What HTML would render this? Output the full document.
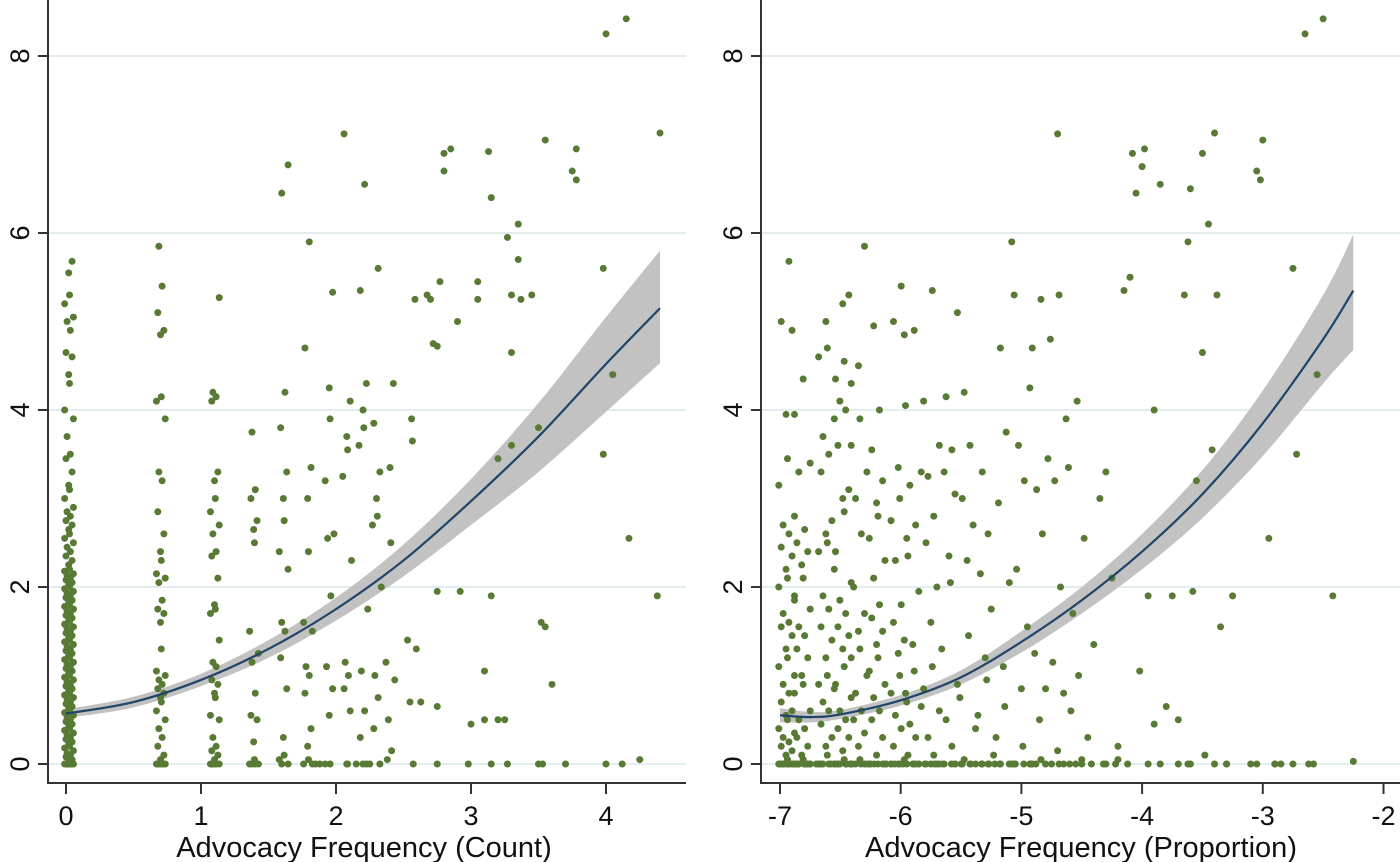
<!DOCTYPE html>
<html><head><meta charset="utf-8"><style>
html,body{margin:0;padding:0;background:#fff;}
svg{display:block;font-family:"Liberation Sans",Arial,sans-serif;}
</style></head><body>
<svg id="chart" width="1400" height="862" viewBox="0 0 1400 862"></svg>
<script>
// ---------- DATA ----------
const yTicks = [0,2,4,6,8];
const leftXTicks = [0,1,2,3,4];
const rightXTicks = [-7,-6,-5,-4,-3,-2];
const leftTitle = "Advocacy Frequency (Count)";
const rightTitle = "Advocacy Frequency (Proportion)";

const leftFitX = [0,0.5,1,1.5,2,2.5,3,3.5,4,4.4];
const leftFitY = [0.57,0.70,0.95,1.30,1.75,2.30,2.97,3.70,4.52,5.15];
const leftFitLo = [0.52,0.64,0.88,1.20,1.62,2.12,2.70,3.30,3.98,4.53];
const leftFitHi = [0.62,0.76,1.02,1.40,1.88,2.48,3.22,4.08,5.05,5.80];
const rightFitX = [-7,-6.75,-6.5,-6,-5.5,-5,-4.5,-4,-3.5,-3,-2.5,-2.25];
const rightFitY = [0.55,0.53,0.56,0.72,0.98,1.38,1.85,2.40,3.05,3.85,4.80,5.35];
const rightFitLo = [0.47,0.47,0.51,0.66,0.90,1.26,1.70,2.20,2.78,3.48,4.30,4.68];
const rightFitHi = [0.63,0.59,0.61,0.78,1.06,1.50,2.00,2.60,3.32,4.22,5.30,5.98];

const leftColX = [0.02,0.70,1.10,1.39,1.61,1.79,1.95,2.08,2.20,2.30,2.40,2.56,2.64];
const leftColY = [
 [0,0,0,0,0,0,0,0,0.02,0.05,0.08,0.1,0.12,0.15,0.18,0.2,0.22,0.25,0.28,0.3,0.33,0.35,0.38,0.4,0.43,0.45,0.48,0.5,0.53,0.55,0.58,0.6,0.63,0.65,0.68,0.7,0.73,0.75,0.78,0.8,0.83,0.85,0.88,0.9,0.93,0.95,0.98,1.0,1.03,1.05,1.08,1.1,1.13,1.15,1.18,1.2,1.23,1.25,1.28,1.3,1.33,1.35,1.38,1.4,1.43,1.45,1.48,1.5,1.53,1.55,1.58,1.6,1.63,1.65,1.68,1.7,1.73,1.75,1.78,1.8,1.83,1.85,1.88,1.9,1.93,1.95,1.98,2.0,2.03,2.05,2.08,2.1,2.13,2.15,2.18,2.2,2.25,2.3,2.35,2.4,2.45,2.5,2.55,2.6,2.65,2.7,2.75,2.8,2.85,2.9,3.0,3.1,3.15,3.3,3.45,3.5,3.7,3.9,4.0,4.3,4.4,4.6,4.65,4.9,5.0,5.05,5.2,5.3,5.55,5.68],
 [0,0,0,0,0,0,0,0.05,0.1,0.2,0.3,0.4,0.5,0.6,0.7,0.75,0.8,0.85,0.9,0.95,1.0,1.05,1.3,1.6,1.7,1.75,1.85,2.05,2.1,2.15,2.3,2.4,2.6,2.85,3.2,3.3,3.9,4.1,4.15,4.85,4.9,5.1,5.4,5.85],
 [0,0,0,0,0,0,0.05,0.1,0.15,0.2,0.3,0.5,0.55,0.75,0.8,0.9,0.95,1.1,1.15,1.4,1.7,1.75,1.8,2.1,2.35,2.4,2.6,2.7,2.85,3.0,3.2,3.3,4.1,4.15,4.2,5.27],
 [0,0,0,0,0.05,0.25,0.5,0.55,0.8,1.15,1.25,1.5,2.5,2.65,2.75,3.0,3.1,3.75],
 [0,0,0.05,0.1,0.3,0.85,1.2,1.5,1.6,2.2,2.4,2.75,3.0,3.3,3.8,4.2,6.45,6.77],
 [0,0,0.05,0.2,0.4,0.8,1.0,1.1,1.5,1.6,2.4,3.0,3.35,4.7,5.9],
 [0,0,0.55,0.85,1.1,1.9,2.55,2.6,3.2,3.9,4.25,5.33],
 [0,0,0.6,0.85,1.0,1.15,2.3,3.25,3.55,3.7,4.1,7.12],
 [0,0,0.3,0.6,1.05,1.75,3.6,3.8,4.0,4.3,5.35,6.55],
 [0,0.4,0.75,1.0,2.0,2.7,2.8,3.0,3.3,3.85,5.6],
 [0.05,0.15,0.5,0.95,1.15,2.5,3.35,4.3],
 [0,0.7,1.3,1.4,3.65,3.9,5.25],
 [0.7,5.3]
];
const leftLooseX = [2.7,2.72,2.75,2.77,2.8,2.85,2.8,2.9,2.92,2.75,2.75,2.98,3.0,3.05,3.05,3.1,3.15,3.1,3.2,3.13,3.15,3.2,3.25,3.27,3.3,3.3,3.3,3.35,3.35,3.37,3.45,3.5,3.52,3.55,3.55,3.6,3.53,3.7,3.75,3.78,3.78,3.98,3.98,4.0,4.05,4.0,4.12,4.15,4.17,4.4,4.38,4.25,2.75,3.15,3.5,1.88,1.85,2.15,2.25,3.27];
const leftLooseY = [5.25,4.75,4.72,5.45,6.9,6.95,6.7,5.0,1.95,1.95,0.65,0,0.45,5.25,5.45,1.05,1.9,0.5,0.5,6.92,6.4,3.45,0.5,5.95,4.65,3.6,5.3,5.7,6.1,5.25,5.3,3.8,1.6,1.55,7.05,0.9,0,0,6.7,6.6,6.95,5.6,3.5,8.25,4.4,0,0,8.42,2.55,7.13,1.9,0.05,0,0,0,0,0,0,0,0];

const rightColX = [-6.95,-6.82,-6.62,-6.48,-6.35,-6.2,-6.02,-5.9,-5.75,-5.6,-5.45,-5.3,-5.15,-5.0,-4.85,-4.7,-4.55];
const rightColY = [
 [0,0,0,0,0,0,0,0.05,0.1,0.15,0.2,0.25,0.3,0.35,0.4,0.5,0.55,0.6,0.7,0.8,0.9,1.0,1.1,1.2,1.3,1.45,1.55,1.6,1.7,1.85,2.0,2.1,2.2,2.35,2.45,2.6,2.7,2.8,3.15,3.45,3.95,4.9,5.0,5.68],
 [0,0,0,0,0,0,0.05,0.1,0.2,0.3,0.4,0.5,0.6,0.8,0.9,1.0,1.2,1.3,1.45,1.55,1.75,1.9,2.1,2.25,2.4,2.5,2.65,3.3,3.4,3.95,4.35],
 [0,0,0,0,0,0.1,0.2,0.3,0.45,0.6,0.7,0.85,0.9,1.0,1.2,1.4,1.55,1.75,1.9,2.2,2.4,2.5,2.6,2.75,3.3,3.5,3.7,3.9,4.6,4.7,5.0],
 [0,0,0,0,0.05,0.15,0.3,0.4,0.5,0.6,0.75,0.9,1.1,1.3,1.45,1.55,1.7,1.85,2.05,2.4,2.85,3.0,3.1,3.6,4.0,4.1,4.3,4.35,4.55,5.2,5.3],
 [0,0,0,0.05,0.2,0.35,0.5,0.6,0.8,1.0,1.2,1.3,1.5,1.7,2.0,2.6,3.0,3.3,3.6,3.9,4.5,5.85],
 [0,0,0,0.1,0.3,0.5,0.6,0.75,0.9,1.05,1.2,1.35,1.5,1.65,1.8,2.1,2.3,2.55,2.8,2.95,3.2,3.55,4.0,4.95],
 [0,0,0,0.05,0.2,0.4,0.55,0.7,0.8,1.0,1.25,1.4,1.6,1.8,2.3,2.55,2.75,3.0,3.35,4.85,5.0,5.4],
 [0,0,0,0.1,0.3,0.45,0.65,0.8,1.05,1.35,1.95,2.35,2.7,3.15,3.3,4.05,4.9],
 [0,0,0,0.1,0.3,0.6,0.85,1.1,1.6,2.0,2.5,2.8,3.25,3.6,4.1,5.35],
 [0,0,0.2,0.5,0.9,1.3,2.05,2.35,3.05,3.3,3.55,4.15,5.1],
 [0,0,0.05,0.4,0.75,1.45,2.3,2.7,3.0,3.6,4.2],
 [0,0,0.1,0.55,0.95,1.2,1.75,2.15,2.6,3.3],
 [0,0,0.3,0.65,1.1,2.05,2.95,3.75,4.7,5.9],
 [0,0,0.2,0.85,1.55,2.2,3.2,3.6,4.25,5.3],
 [0,0.05,0.5,0.85,1.25,2.6,3.1,3.45,4.7,5.25],
 [0,0.15,0.8,1.15,2.0,3.2,3.9,4.8,5.3,7.12],
 [0,0.05,0.6,1.0,1.7,2.55,3.35,4.1]
];
const rightLooseX = [-4.45,-4.4,-4.35,-4.3,-4.25,-4.2,-4.15,-4.1,-4.08,-4.05,-4.0,-3.98,-3.95,-3.9,-3.85,-3.8,-3.75,-3.7,-3.65,-3.62,-3.6,-3.58,-3.55,-3.5,-3.48,-3.45,-3.42,-3.4,-3.38,-3.35,-3.3,-3.05,-3.02,-3.0,-2.95,-2.85,-2.75,-2.72,-2.65,-2.58,-2.55,-2.5,-2.42,-2.25,-4.02,-3.9,-3.5,-3.25,-3.1,-2.9,-2.62,-4.2,-4.3,-3.7,-3.3];
const rightLooseY = [0.3,1.35,3.0,3.3,2.1,0.2,5.35,5.5,6.9,6.45,6.75,6.95,1.9,4.0,6.55,0.65,1.9,0,5.3,5.9,6.5,1.95,3.2,6.9,0.1,6.1,3.55,7.13,5.3,1.55,0,6.7,6.6,7.05,2.55,0,5.6,3.5,8.25,0,4.4,8.42,1.9,0.03,1.05,0.45,4.65,1.9,0,0,0,0.05,0,0.5,0];
const rightZeroX = [-7.0,-6.97,-6.93,-6.9,-6.88,-6.85,-6.8,-6.78,-6.75,-6.7,-6.66,-6.58,-6.55,-6.52,-6.45,-6.42,-6.4,-6.33,-6.3,-6.25,-6.22,-6.15,-6.12,-6.08,-6.05,-5.98,-5.95,-5.88,-5.85,-5.8,-5.72,-5.68,-5.65,-5.58,-5.55,-5.5,-5.42,-5.38,-5.33,-5.27,-5.22,-5.18,-5.1,-5.05,-4.98,-4.92,-4.88,-4.8,-4.75,-4.65,-4.6,-4.5,-4.42,-4.32,-4.22,-4.12,-3.95,-3.85,-3.62,-3.6,-3.4,-3.05,-2.9,-2.75];

// ---------- RENDER ----------
const NS = "http://www.w3.org/2000/svg";
const svg = document.getElementById("chart");
const jit = [0,0.025,-0.02,0.012,-0.012,0.035,-0.03,0.006];
function el(tag, attrs, parent){const e=document.createElementNS(NS,tag);for(const k in attrs)e.setAttribute(k,attrs[k]);(parent||svg).appendChild(e);return e;}

function smooth(P, start){
  let d = (start||"M") + P[0][0]+","+P[0][1];
  for(let i=0;i<P.length-1;i++){
    const p0=P[Math.max(0,i-1)],p1=P[i],p2=P[i+1],p3=P[Math.min(P.length-1,i+2)];
    const c1=[p1[0]+(p2[0]-p0[0])/6,p1[1]+(p2[1]-p0[1])/6];
    const c2=[p2[0]-(p3[0]-p1[0])/6,p2[1]-(p3[1]-p1[1])/6];
    d+=` C${c1[0]},${c1[1]} ${c2[0]},${c2[1]} ${p2[0]},${p2[1]}`;
  }
  return d;
}

function panel(cfg){
  const g = el("g",{});
  
  
  const sx = v => cfg.x0px + (v - cfg.x0v) * cfg.xs;
  const sy = v => 764 - v * 88.5;
  yTicks.forEach(t=>{
    const l = el("line",{x1:cfg.left+1,x2:cfg.right,y1:sy(t),y2:sy(t),stroke:"#e3ecee","stroke-width":2},g);
    
    
  });
  const hiP = cfg.fx.map((x,i)=>[sx(x),sy(cfg.fhi[i])]);
  const loP = cfg.fx.map((x,i)=>[sx(x),sy(cfg.flo[i])]).reverse();
  const band = el("path",{d:smooth(hiP)+smooth(loP," L")+" Z",fill:"#c2c2c2"},g);
  
  
  const pts = [];
  cfg.colX.forEach((cx,ci)=>{cfg.colY[ci].forEach((y,j)=>pts.push([cx + jit[(j+ci)%jit.length]*cfg.jscale, y]));});
  cfg.looseX.forEach((x,i)=>pts.push([x,cfg.looseY[i]]));
  cfg.zeroX.forEach(x=>pts.push([x,0]));
  pts.forEach(p=>{
    const c = el("circle",{cx:sx(p[0]),cy:sy(p[1]),r:3.5,fill:"#587a34"},g);
    
    
  });
  const fP = cfg.fx.map((x,i)=>[sx(x),sy(cfg.fy[i])]);
  const line = el("path",{d:smooth(fP),fill:"none",stroke:"#1f4468","stroke-width":2.2},g);
  
  
  const ax = el("path",{d:`M${cfg.left},0 L${cfg.left},783 L${cfg.right},783`,fill:"none",stroke:"#333","stroke-width":2},g);
  
  
  yTicks.forEach(t=>{
    el("line",{x1:cfg.left-10,x2:cfg.left,y1:sy(t),y2:sy(t),stroke:"#333","stroke-width":2},g);
    const tx = el("text",{x:0,y:0,transform:`translate(${cfg.left-19},${sy(t)}) rotate(-90)`,"text-anchor":"middle","font-size":27,fill:"#111"},g);
    tx.textContent = t;
    
    
  });
  cfg.xt.forEach(t=>{
    el("line",{x1:sx(t),x2:sx(t),y1:783,y2:794,stroke:"#333","stroke-width":2},g);
    const tx = el("text",{x:sx(t),y:825,"text-anchor":"middle","font-size":27,fill:"#111"},g);
    tx.textContent = t;
    
    
  });
  const ti = el("text",{x:cfg.titleX,y:857,"text-anchor":"middle","font-size":29,fill:"#111"},g);
  ti.textContent = cfg.title;
  
  
}

panel({name:"count-panel",left:48,right:686,x0px:66,x0v:0,xs:135,xt:leftXTicks,
  fx:leftFitX,fy:leftFitY,flo:leftFitLo,fhi:leftFitHi,colX:leftColX,colY:leftColY,
  looseX:leftLooseX,looseY:leftLooseY,zeroX:[],jscale:1,title:leftTitle,titleX:364});
panel({name:"proportion-panel",left:761,right:1400,x0px:780,x0v:-7,xs:120.7,xt:rightXTicks,
  fx:rightFitX,fy:rightFitY,flo:rightFitLo,fhi:rightFitHi,colX:rightColX,colY:rightColY,
  looseX:rightLooseX,looseY:rightLooseY,zeroX:rightZeroX,jscale:2,title:rightTitle,titleX:1081});
</script>
</body></html>
